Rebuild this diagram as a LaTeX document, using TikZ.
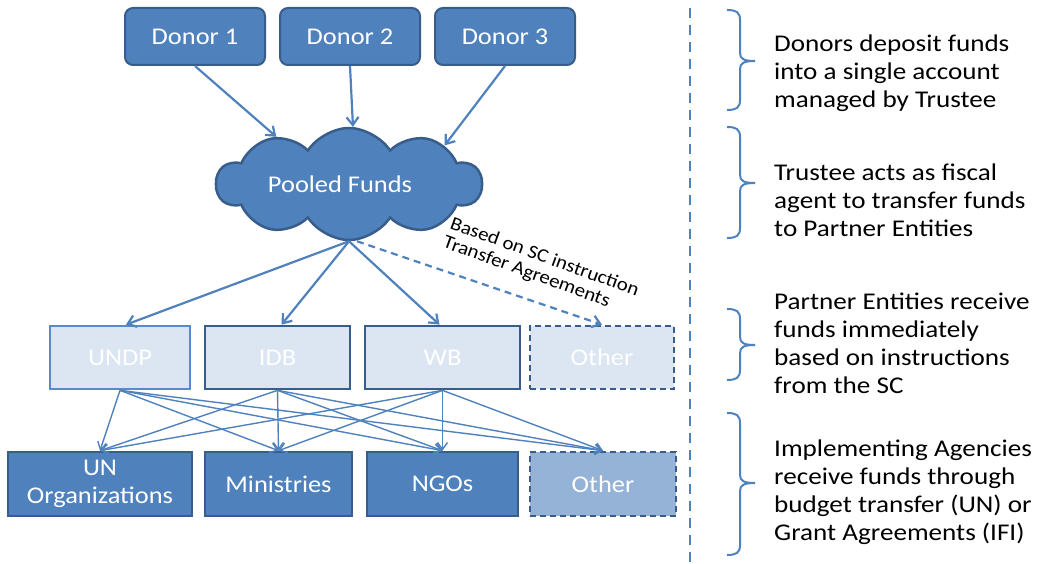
\documentclass[tikz,border=0pt]{standalone}
\usepackage{fontspec}
\setmainfont{Carlito}[FakeStretch=1.1]
\newfontfamily\notefont{Carlito}[FakeStretch=1.13]
\usetikzlibrary{arrows.meta,shapes.symbols}
\definecolor{mblue}{HTML}{4F81BD}
\definecolor{dblue}{HTML}{385D8A}
\definecolor{lfill}{HTML}{DCE6F2}
\definecolor{mfill}{HTML}{95B3D7}
\definecolor{ublue}{HTML}{5A8ACB}
\newcommand\mybrace[3]{%
  \draw[bracestyle] (727,#1) .. controls (736,#1) and (740,{#1+2}) .. (740,{#1+10}) -- (740,{#2-8})
    .. controls (740,{#2-2}) and (744,#2) .. (755,#2);
  \draw[bracestyle] (755,#2) .. controls (744,#2) and (740,{#2+2}) .. (740,{#2+8}) -- (740,{#3-10})
    .. controls (740,{#3-2}) and (736,#3) .. (727,#3);}
\begin{document}
\begin{tikzpicture}[x=1pt,y=-1pt,
  boxfont/.style={font=\fontsize{24}{28}\selectfont},
  donorbox/.style={boxfont, draw=dblue, line width=2pt, fill=mblue, rounded corners=8pt, text=white,
    minimum width=140pt, minimum height=57pt, inner sep=0pt},
  partbox/.style={boxfont, draw=dblue, line width=2.7pt, fill=lfill, text=white,
    minimum height=63pt, inner sep=0pt},
  implbox/.style={boxfont, draw=dblue, line width=2.7pt, fill=mblue, text=white,
    minimum height=64pt, inner sep=0pt, align=center},
  flow/.style={draw=mblue, line width=2.2pt, -{Straight Barb[length=8pt,width=12pt]}},
  thinflow/.style={draw=mblue, line width=1.4pt, -{Straight Barb[length=7pt,width=10pt]}},
  bracestyle/.style={draw=mblue, line width=2pt},
  note/.style={font=\notefont\fontsize{24}{28}\selectfont, align=left, anchor=west, inner sep=0pt, text=black}]
\useasboundingbox (0,0) rectangle (1046,564);
% donors
\node[donorbox] (d1) at (195,36.5) {Donor 1};
\node[donorbox] (d2) at (350,36.5) {Donor 2};
\node[donorbox] (d3) at (505,36.5) {Donor 3};
% cloud
\node[cloud, cloud puffs=10, cloud puff arc=115, cloud ignores aspect, minimum width=265pt,
  minimum height=112pt, fill=mblue, draw=dblue, line width=2.5pt, text=white, boxfont, inner sep=0pt]
  (c) at (349,184) {\hspace*{-18pt}Pooled Funds};
% partner entities
\node[partbox, draw=ublue, minimum width=140pt] (undp) at (120,357.5) {UNDP};
\node[partbox, minimum width=145pt] (idb) at (277.5,357.5) {IDB};
\node[partbox, minimum width=155pt] (wb) at (442.5,357.5) {WB};
\node[partbox, dashed, dash pattern=on 6pt off 4pt, minimum width=144pt] (oth1) at (602,357.5) {Other};
% implementing agencies
\node[implbox, minimum width=184pt] (un) at (100,484) {UN\\Organizations};
\node[implbox, minimum width=147pt] (min) at (278.5,484) {Ministries};
\node[implbox, minimum width=151pt] (ngo) at (442.5,484) {NGOs};
\node[implbox, fill=mfill, dashed, dash pattern=on 6pt off 4pt, minimum width=146pt] (oth2) at (603,484) {Other};
% donor arrows
\draw[flow] (d1.south) -- (c.147);
\draw[flow] (d2.south) -- (c.86);
\draw[flow] (d3.south) -- (c.22);
% cloud to partners
\draw[flow] (c.south) -- ([xshift=6pt]undp.north);
\draw[flow] (c.south) -- ([xshift=4pt]idb.north);
\draw[flow] (c.south) -- ([xshift=-3pt]wb.north);
\draw[flow, dashed, dash pattern=on 7pt off 5pt] ([xshift=8pt]c.south) -- (oth1.north);
\node[rotate=-20, font=\fontsize{19}{20}\selectfont, align=left, text=black, inner sep=0pt] (lab) at (541,267)
  {Based on SC instruction\\Transfer Agreements};
% partners to agencies
\foreach \s in {undp,idb,wb}{
  \foreach \t in {un,min,ngo,oth2}{
    \draw[thinflow] (\s.south) -- (\t.north);
  }
}
% separator
\draw[mblue, line width=2.5pt, dash pattern=on 10pt off 7pt] (690,8) -- (690,562);
% braces
\mybrace{10}{61}{110}
\mybrace{127}{183}{238}
\mybrace{309}{345}{380}
\mybrace{413}{483}{555}
% notes
\node[note] (n1) at (774,73) {Donors deposit funds\\into a single account\\managed by Trustee};
\node[note] (n2) at (774,200) {Trustee acts as fiscal\\agent to transfer funds\\to Partner Entities};
\node[note] (n3) at (774,343) {Partner Entities receive\\funds immediately\\based on instructions\\from the SC};
\node[note] (n4) at (774,492.5) {Implementing Agencies\\receive funds through\\budget transfer (UN) or\\Grant Agreements (IFI)};
\end{tikzpicture}
\end{document}
